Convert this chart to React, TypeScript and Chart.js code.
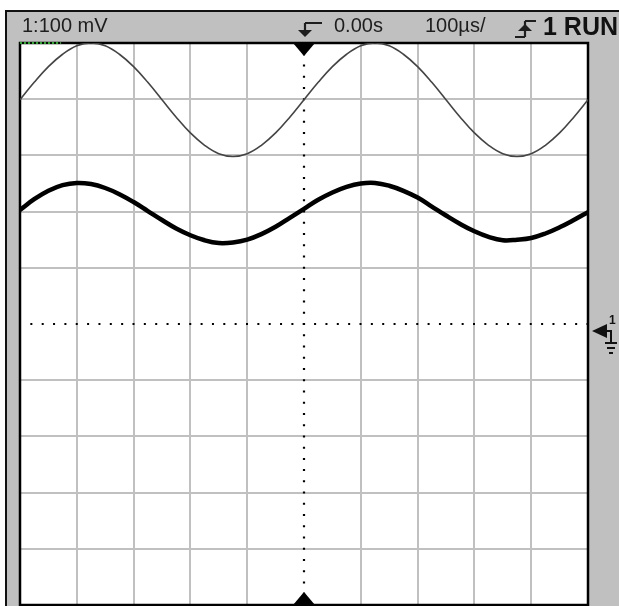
import React, { useEffect, useRef } from "react";
import { Chart, registerables } from "chart.js";

Chart.register(...registerables);

// time axis in divisions (100 µs/div), voltage axis in divisions
const sampleTime = [0, 0.25, 0.5, 0.75, 1, 1.25, 1.5, 1.75, 2, 2.25, 2.5, 2.75, 3, 3.25, 3.5, 3.75, 4, 4.25, 4.5, 4.75, 5, 5.25, 5.5, 5.75, 6, 6.25, 6.5, 6.75, 7, 7.25, 7.5, 7.75, 8, 8.25, 8.5, 8.75, 9, 9.25, 9.5, 9.75, 10];
const thinValues = [3.99, 4.3, 4.58, 4.8, 4.95, 5.0, 4.95, 4.8, 4.58, 4.3, 3.99, 3.68, 3.4, 3.18, 3.03, 2.98, 3.03, 3.18, 3.4, 3.68, 3.99, 4.3, 4.58, 4.8, 4.95, 5.0, 4.95, 4.8, 4.58, 4.3, 3.99, 3.68, 3.4, 3.18, 3.03, 2.98, 3.03, 3.18, 3.4, 3.68, 3.99];
const thickValues = [2.03, 2.22, 2.37, 2.47, 2.51, 2.49, 2.42, 2.31, 2.17, 2.01, 1.85, 1.7, 1.58, 1.49, 1.44, 1.45, 1.5, 1.6, 1.73, 1.89, 2.05, 2.21, 2.34, 2.44, 2.5, 2.51, 2.46, 2.37, 2.25, 2.09, 1.93, 1.78, 1.65, 1.55, 1.49, 1.5, 1.53, 1.61, 1.72, 1.85, 1.99];

const centerTime = [5, 5];
const centerVolts = [-5, 5];
const zeroTime = [0, 10];
const zeroVolts = [0, 0];
const readoutTime = [0, 0.72];
const readoutVolts = [5, 5];

const triggerTime = 5;
const headerLabels = ["1:100 mV", "0.00s", "100µs/", "1 RUN"];

const pairs = (xs: number[], ys: number[]) => xs.map((x, i) => ({ x, y: ys[i] }));

const scopePlugin = {
  id: "scopeFrame",
  beforeDraw(chart: any) {
    const { ctx, chartArea } = chart;
    ctx.save();
    ctx.fillStyle = "#ffffff";
    ctx.fillRect(chartArea.left, chartArea.top, chartArea.right - chartArea.left, chartArea.bottom - chartArea.top);
    ctx.restore();
  },
  beforeDatasetsDraw(chart: any) {
    const { ctx, chartArea } = chart;
    const { left, right, top, bottom } = chartArea;
    ctx.save();
    ctx.strokeStyle = "#000";
    ctx.lineWidth = 2.5;
    ctx.strokeRect(left, top, right - left, bottom - top);
    ctx.restore();
  },
  afterDatasetsDraw(chart: any) {
    const { ctx, scales } = chart;
    const cx = scales.x.getPixelForValue(triggerTime);
    const ty = scales.y.getPixelForValue(5);
    const by = scales.y.getPixelForValue(-5);
    ctx.save();
    ctx.fillStyle = "#000";
    ctx.beginPath();
    ctx.moveTo(cx - 11, ty);
    ctx.lineTo(cx + 11, ty);
    ctx.lineTo(cx, ty + 13);
    ctx.closePath();
    ctx.fill();
    ctx.beginPath();
    ctx.moveTo(cx - 11, by);
    ctx.lineTo(cx + 11, by);
    ctx.lineTo(cx, by - 13);
    ctx.closePath();
    ctx.fill();
    ctx.restore();
  },
};

export default function App() {
  const ref = useRef<HTMLCanvasElement | null>(null);

  useEffect(() => {
    if (!ref.current) return;
    const chart = new Chart(ref.current, {
      type: "line",
      data: {
        datasets: [
          {
            data: pairs(sampleTime, thickValues),
            borderColor: "#000",
            borderWidth: 4.5,
            pointRadius: 0,
            tension: 0.4,
            clip: 0,
          },
          {
            data: pairs(sampleTime, thinValues),
            borderColor: "#444",
            borderWidth: 1.6,
            pointRadius: 0,
            tension: 0.4,
            clip: 0,
          },
          {
            data: pairs(readoutTime, readoutVolts),
            borderColor: "#22b322",
            borderWidth: 2,
            borderDash: [2, 2],
            pointRadius: 0,
            clip: 2,
          },
          {
            data: pairs(centerTime, centerVolts),
            borderColor: "#000",
            borderWidth: 2.2,
            borderDash: [2, 9.24],
            borderDashOffset: 1,
            pointRadius: 0,
            clip: 0,
          },
          {
            data: pairs(zeroTime, zeroVolts),
            borderColor: "#000",
            borderWidth: 2.2,
            borderDash: [2, 9.35],
            borderDashOffset: 1,
            pointRadius: 0,
            clip: 0,
          },
        ],
      },
      options: {
        animation: false,
        responsive: false,
        events: [],
        layout: { padding: { left: 20, top: 43, right: 31, bottom: 1 } },
        plugins: { legend: { display: false }, tooltip: { enabled: false } },
        scales: {
          x: {
            type: "linear",
            min: 0,
            max: 10,
            ticks: { display: false, stepSize: 1 },
            border: { display: false },
            grid: {
              drawTicks: false,
              lineWidth: 2,
              color: (c: any) => (c.tick && c.tick.value === triggerTime ? "rgba(0,0,0,0)" : "#c0c0c0"),
            },
            afterFit: (s: any) => {
              s.height = 0;
            },
          },
          y: {
            type: "linear",
            min: -5,
            max: 5,
            ticks: { display: false, stepSize: 1 },
            border: { display: false },
            grid: {
              drawTicks: false,
              lineWidth: 2,
              color: (c: any) => (c.tick && c.tick.value === 0 ? "rgba(0,0,0,0)" : "#c0c0c0"),
            },
            afterFit: (s: any) => {
              s.width = 0;
            },
          },
        },
      },
      plugins: [scopePlugin],
    });
    return () => chart.destroy();
  }, []);

  const txt: React.CSSProperties = {
    position: "absolute",
    fontFamily: "'Liberation Sans', Arial, sans-serif",
    fontSize: 20,
    lineHeight: "20px",
    color: "#1e1e1e",
    whiteSpace: "nowrap",
  };

  return (
    <div style={{ position: "fixed", left: 0, top: 0, width: 619, height: 606, background: "#fff", overflow: "hidden" }}>
      <div
        style={{
          position: "absolute",
          left: 5,
          top: 10,
          right: 0,
          bottom: 0,
          background: "#c0c0c0",
          borderLeft: "2px solid #111",
          borderTop: "2px solid #111",
        }}
      />
      <canvas ref={ref} width={619} height={606} style={{ position: "absolute", left: 0, top: 0, width: 619, height: 606 }} />
      <span style={{ ...txt, left: 22, top: 15 }}>{headerLabels[0]}</span>
      <svg style={{ position: "absolute", left: 294, top: 19 }} width="30" height="20">
        <path d="M11 4 H28 M11 4 V14" stroke="#1e1e1e" strokeWidth="2.2" fill="none" />
        <path d="M4 11 L18 11 L11 18 Z" fill="#1e1e1e" />
      </svg>
      <span style={{ ...txt, left: 334, top: 15 }}>{headerLabels[1]}</span>
      <span style={{ ...txt, left: 425, top: 15 }}>{headerLabels[2]}</span>
      <svg style={{ position: "absolute", left: 512, top: 17 }} width="26" height="24">
        <path d="M13 4 H24 M13 4 V20 M3 20 H13" stroke="#1e1e1e" strokeWidth="2.2" fill="none" />
        <path d="M6 14 L20 14 L13 7 Z" fill="#1e1e1e" />
      </svg>
      <span style={{ ...txt, left: 543, top: 14, fontSize: 25, lineHeight: "25px", fontWeight: "bold", color: "#111" }}>
        {headerLabels[3]}
      </span>
      <svg style={{ position: "absolute", left: 590, top: 312 }} width="29" height="46">
        <path d="M2 19 L17 12 L17 26 Z" fill="#111" />
        <path d="M16 19 H21 V31" stroke="#111" strokeWidth="2" fill="none" />
        <path d="M15 31 H27 M17 36 H25 M19 41 H23" stroke="#111" strokeWidth="2" fill="none" />
        <text x="19" y="12" fontFamily="'Liberation Sans', Arial, sans-serif" fontSize="12" fontWeight="bold" fill="#111">
          1
        </text>
      </svg>
    </div>
  );
}
